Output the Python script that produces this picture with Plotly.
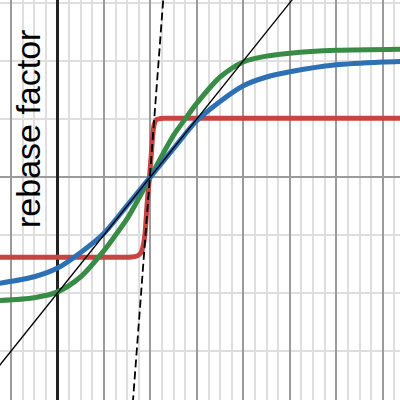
import plotly.graph_objects as go

# curves (x in major-grid units, y in horizontal-grid units)
blue_x = [-1.3, -0.5, 0.0, 0.5, 1.0, 1.5, 2.0, 2.5, 3.0, 3.5, 4.0, 4.5, 5.0, 6.0, 7.0, 7.4]
blue_y = [-1.84, -1.72, -1.57, -1.30, -0.97, -0.49, 0.0, 0.49, 0.97, 1.30, 1.57, 1.72, 1.81, 1.93, 1.98, 1.99]

green_x = [-1.3, -0.5, 0.0, 0.5, 1.0, 1.25, 1.5, 1.75, 2.0, 2.25, 2.5, 2.75, 3.0, 3.5, 4.0, 4.5, 5.0, 6.0, 7.4]
green_y = [-2.13, -2.08, -1.98, -1.72, -1.27, -1.0, -0.72, -0.37, 0.0, 0.37, 0.72, 1.0, 1.27, 1.72, 1.98, 2.08, 2.13, 2.18, 2.20]

red_x = [-1.3, 1.0, 1.6, 1.72, 1.8, 1.84, 1.884, 1.93, 1.98, 2.02, 2.05, 2.08, 2.12, 2.18, 2.3, 3.0, 7.4]
red_y = [-1.386, -1.386, -1.38, -1.36, -1.30, -1.20, -0.97, -0.45, 0.0, 0.40, 0.72, 0.90, 0.98, 1.0, 1.009, 1.009, 1.009]

tangent_x = [-1.3, 5.1]
tangent_y = [-3.3, 3.1]

steep_x = [1.62, 2.28]
steep_y = [-3.9, 3.1]

fig = go.Figure()

fig.add_trace(go.Scatter(x=red_x, y=red_y, mode="lines",
                         line=dict(color="#c74440", width=5, shape="spline", smoothing=0.6)))
fig.add_trace(go.Scatter(x=green_x, y=green_y, mode="lines",
                         line=dict(color="#388c46", width=5, shape="spline", smoothing=0.8)))
fig.add_trace(go.Scatter(x=blue_x, y=blue_y, mode="lines",
                         line=dict(color="#2d70b3", width=5, shape="spline", smoothing=0.8)))
fig.add_trace(go.Scatter(x=tangent_x, y=tangent_y, mode="lines",
                         line=dict(color="black", width=1.3)))
fig.add_trace(go.Scatter(x=steep_x, y=steep_y, mode="lines",
                         line=dict(color="black", width=1.8, dash="8px,4px")))

fig.add_annotation(
    text="rebase factor",
    xref="paper", yref="paper",
    x=0.07, y=0.6775,
    xanchor="center", yanchor="middle",
    textangle=-90,
    showarrow=False,
    font=dict(family="Liberation Sans, Arial", size=34, color="black"),
)

fig.update_layout(
    width=400,
    height=400,
    margin=dict(l=0, r=0, t=0, b=0),
    paper_bgcolor="white",
    plot_bgcolor="white",
    showlegend=False,
    xaxis=dict(
        range=[-1.2376, 7.371],
        tick0=0, dtick=1,
        showgrid=True, gridcolor="#9b9b9b", gridwidth=1.5,
        minor=dict(dtick=0.25, showgrid=True, gridcolor="#dedede", gridwidth=1.5),
        zeroline=True, zerolinecolor="#222222", zerolinewidth=3,
        showticklabels=False, ticks="",
    ),
    yaxis=dict(
        range=[-3.8424, 3.0465],
        tick0=0, dtick=10,
        showgrid=True, gridcolor="#9b9b9b", gridwidth=1.5,
        minor=dict(dtick=1, showgrid=True, gridcolor="#dedede", gridwidth=1.5),
        zeroline=False,
        showticklabels=False, ticks="",
    ),
)

# drop the page's default body margin so the plot sits at the window corner
fig.write_html(
    "out.html",
    config={"displayModeBar": False},
    post_script="document.body.style.margin='0';",
)
